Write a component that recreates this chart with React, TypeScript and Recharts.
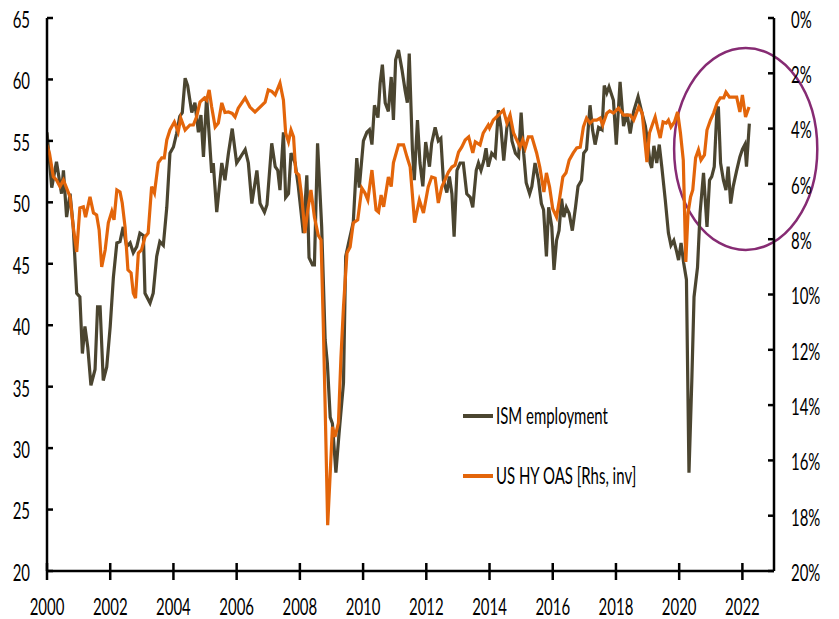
import React from 'react';
import { LineChart, Line, XAxis, YAxis, Legend, ReferenceArea } from 'recharts';

// ISM employment index (left axis), sampled by years since 2000
const ismYearsSince2000 = [
  0.00, 0.08, 0.15, 0.30, 0.46, 0.52, 0.62, 0.73, 0.83, 0.94,
  1.04, 1.12, 1.20, 1.29, 1.39, 1.52, 1.60, 1.68, 1.78, 1.89,
  2.00, 2.10, 2.21, 2.31, 2.41, 2.52, 2.63, 2.73, 2.84, 2.94,
  3.05, 3.10, 3.26, 3.36, 3.47, 3.57, 3.68, 3.79, 3.89, 4.00,
  4.10, 4.20, 4.28, 4.37, 4.45, 4.58, 4.68, 4.79, 4.87, 4.95,
  5.05, 5.21, 5.26, 5.37, 5.53, 5.63, 5.74, 5.86, 6.00, 6.10,
  6.27, 6.37, 6.48, 6.64, 6.74, 6.88, 6.96, 7.11, 7.22, 7.30,
  7.37, 7.48, 7.55, 7.64, 7.72, 7.85, 7.95, 8.11, 8.22, 8.29,
  8.40, 8.46, 8.56, 8.69, 8.80, 8.87, 8.96, 9.03, 9.14, 9.24,
  9.38, 9.45, 9.56, 9.69, 9.80, 9.88, 10.01, 10.12, 10.20, 10.28,
  10.36, 10.47, 10.54, 10.61, 10.70, 10.80, 10.89, 10.96, 11.03, 11.12,
  11.23, 11.33, 11.40, 11.46, 11.56, 11.62, 11.72, 11.80, 11.89, 11.98,
  12.10, 12.17, 12.28, 12.38, 12.46, 12.54, 12.65, 12.73, 12.81, 12.88,
  12.97, 13.07, 13.17, 13.28, 13.39, 13.47, 13.58, 13.65, 13.73, 13.82,
  13.89, 13.96, 14.07, 14.18, 14.28, 14.36, 14.45, 14.55, 14.64, 14.71,
  14.82, 14.92, 15.00, 15.08, 15.16, 15.27, 15.34, 15.44, 15.55, 15.64,
  15.71, 15.80, 15.87, 15.97, 16.04, 16.12, 16.20, 16.28, 16.35, 16.43,
  16.52, 16.62, 16.72, 16.80, 16.91, 16.98, 17.07, 17.18, 17.26, 17.34,
  17.45, 17.56, 17.63, 17.71, 17.78, 17.92, 18.01, 18.13, 18.24, 18.35,
  18.45, 18.56, 18.70, 18.83, 18.93, 19.00, 19.08, 19.13, 19.20, 19.29,
  19.37, 19.45, 19.56, 19.66, 19.74, 19.83, 19.91, 19.98, 20.06, 20.14,
  20.23, 20.31, 20.40, 20.47, 20.58, 20.66, 20.77, 20.88, 20.96, 21.03,
  21.11, 21.19, 21.24, 21.31, 21.40, 21.48, 21.55, 21.63, 21.71, 21.82,
  21.92, 22.00, 22.08, 22.13, 22.22,
];
const ismValues = [
  55.7, 53.3, 51.2, 53.3, 50.7, 52.6, 48.8, 50.7, 48.0, 42.6,
  42.3, 37.7, 39.9, 38.2, 35.1, 36.4, 41.5, 41.5, 35.5, 36.6,
  39.9, 43.9, 46.7, 46.8, 48.0, 46.4, 46.7, 45.9, 46.4, 47.5,
  47.3, 42.6, 41.8, 42.6, 45.6, 46.8, 46.5, 49.6, 54.0, 54.5,
  55.6, 57.0, 57.3, 60.1, 59.5, 57.3, 58.1, 55.7, 57.1, 53.7,
  58.6, 52.4, 53.2, 49.2, 53.2, 51.8, 54.0, 56.0, 53.2, 53.6,
  54.3, 53.2, 49.9, 52.6, 49.9, 49.2, 49.8, 54.8, 52.9, 52.6,
  51.0, 55.7, 50.4, 50.7, 54.0, 53.2, 51.3, 47.5, 52.2, 45.5,
  44.9, 44.9, 54.8, 48.0, 38.8, 36.9, 32.5, 32.0, 28.0, 31.2,
  35.3, 45.6, 46.9, 48.4, 53.6, 51.2, 55.0, 55.7, 55.9, 54.7,
  57.9, 56.9, 59.7, 61.2, 58.1, 57.4, 60.2, 56.7, 61.6, 62.4,
  60.8, 59.1, 58.1, 62.1, 54.3, 51.8, 56.7, 53.2, 51.3, 54.9,
  52.9, 54.8, 56.1, 55.0, 55.2, 51.8, 50.8, 52.1, 50.7, 47.2,
  52.6, 53.2, 53.2, 50.7, 50.4, 49.6, 52.6, 53.2, 52.6, 53.4,
  54.4, 52.9, 54.0, 53.7, 57.5, 56.1, 53.4, 56.1, 57.0, 55.0,
  54.0, 53.7, 57.3, 54.0, 51.6, 50.7, 51.3, 53.2, 51.8, 49.9,
  49.4, 45.6, 49.6, 48.0, 44.5, 46.9, 47.7, 50.3, 48.8, 49.6,
  49.1, 47.7, 49.6, 51.3, 51.8, 54.0, 54.3, 57.9, 55.9, 54.7,
  56.1, 55.9, 59.5, 58.9, 59.4, 58.3, 54.7, 59.8, 56.2, 57.2,
  55.6, 57.4, 58.6, 57.2, 56.2, 55.0, 53.2, 52.8, 54.6, 53.2,
  54.7, 52.9, 50.2, 47.5, 46.5, 46.9, 46.1, 45.3, 46.7, 45.1,
  43.7, 28.0, 35.5, 42.3, 44.7, 49.1, 52.4, 48.0, 51.8, 52.1,
  52.9, 57.3, 57.8, 53.2, 51.8, 51.0, 52.9, 49.9, 51.3, 52.6,
  53.7, 54.3, 54.7, 52.9, 56.4,
];

// US HY OAS in % (right axis, inverted), sampled by years since 2000
const oasYearsSince2000 = [
  0.00, 0.08, 0.20, 0.30, 0.41, 0.52, 0.62, 0.73, 0.83, 0.94,
  1.04, 1.15, 1.22, 1.36, 1.47, 1.57, 1.65, 1.73, 1.84, 1.94,
  2.05, 2.12, 2.21, 2.31, 2.38, 2.47, 2.56, 2.66, 2.73, 2.80,
  2.89, 2.99, 3.10, 3.20, 3.31, 3.40, 3.52, 3.63, 3.71, 3.79,
  3.89, 4.03, 4.15, 4.23, 4.37, 4.52, 4.63, 4.73, 4.84, 4.98,
  5.05, 5.13, 5.21, 5.32, 5.42, 5.53, 5.63, 5.74, 5.86, 5.95,
  6.05, 6.27, 6.42, 6.58, 6.74, 6.90, 7.00, 7.11, 7.22, 7.37,
  7.48, 7.55, 7.64, 7.72, 7.80, 7.87, 7.97, 8.06, 8.16, 8.25,
  8.35, 8.46, 8.58, 8.67, 8.74, 8.80, 8.88, 8.96, 9.03, 9.11,
  9.22, 9.30, 9.38, 9.49, 9.59, 9.69, 9.83, 9.96, 10.06, 10.15,
  10.28, 10.41, 10.49, 10.57, 10.65, 10.80, 10.89, 10.96, 11.12, 11.28,
  11.39, 11.49, 11.63, 11.78, 11.91, 12.06, 12.17, 12.28, 12.38, 12.49,
  12.59, 12.70, 12.81, 12.91, 13.02, 13.12, 13.23, 13.34, 13.47, 13.55,
  13.70, 13.80, 13.96, 14.00, 14.12, 14.28, 14.44, 14.55, 14.65, 14.76,
  14.86, 14.97, 15.05, 15.13, 15.23, 15.34, 15.49, 15.59, 15.72, 15.80,
  15.90, 16.00, 16.12, 16.21, 16.32, 16.42, 16.52, 16.65, 16.76, 16.87,
  16.97, 17.07, 17.18, 17.28, 17.39, 17.50, 17.58, 17.71, 17.80, 17.92,
  18.08, 18.24, 18.45, 18.56, 18.72, 18.83, 18.89, 18.98, 19.06, 19.17,
  19.24, 19.31, 19.40, 19.49, 19.59, 19.66, 19.74, 19.85, 19.95, 20.04,
  20.13, 20.21, 20.28, 20.36, 20.43, 20.52, 20.61, 20.69, 20.80, 20.88,
  20.99, 21.09, 21.20, 21.30, 21.41, 21.48, 21.59, 21.71, 21.82, 21.92,
  22.00, 22.10, 22.21,
];
const oasValues = [
  4.59, 4.90, 5.74, 5.86, 6.10, 5.86, 6.15, 6.47, 7.56, 8.46,
  6.87, 6.83, 7.20, 6.47, 7.05, 7.12, 7.67, 9.00, 8.39, 7.41,
  7.00, 7.30, 6.22, 6.29, 6.69, 7.56, 9.11, 9.22, 9.95, 10.13,
  8.50, 8.39, 7.92, 7.78, 6.10, 6.33, 5.24, 5.06, 5.06, 4.41,
  4.05, 3.76, 4.12, 3.62, 4.05, 3.87, 3.87, 3.58, 3.04, 2.89,
  2.97, 2.60, 3.22, 3.94, 3.80, 3.07, 3.42, 3.40, 3.45, 3.58,
  3.26, 2.89, 3.22, 3.40, 3.22, 3.04, 2.60, 2.65, 2.78, 2.35,
  2.97, 4.16, 4.48, 4.05, 4.30, 5.57, 5.68, 6.47, 7.78, 6.94,
  6.22, 7.20, 7.85, 8.03, 11.03, 14.07, 18.34, 16.46, 14.79, 15.15,
  14.65, 12.26, 10.45, 8.50, 8.28, 7.41, 7.30, 6.15, 6.33, 6.58,
  5.50, 6.94, 7.02, 6.40, 6.83, 5.75, 6.10, 5.24, 4.59, 4.59,
  5.03, 5.39, 7.40, 6.58, 7.05, 6.11, 5.75, 5.79, 6.69, 6.11,
  5.86, 5.57, 5.39, 5.32, 4.85, 4.67, 4.41, 4.30, 4.88, 4.48,
  4.59, 4.16, 3.87, 3.98, 3.69, 3.51, 3.33, 3.80, 3.51, 4.16,
  4.41, 4.67, 4.41, 4.70, 4.30, 4.30, 4.88, 5.39, 6.29, 5.60,
  6.11, 6.90, 7.20, 6.58, 5.75, 5.60, 5.14, 4.88, 4.70, 4.67,
  3.94, 3.62, 3.80, 3.69, 3.69, 3.62, 3.87, 3.44, 3.36, 3.44,
  3.26, 3.51, 3.51, 3.69, 3.22, 3.44, 4.16, 5.21, 4.16, 3.80,
  3.58, 3.94, 4.34, 3.76, 3.80, 3.69, 3.94, 3.76, 3.40, 4.16,
  5.14, 8.82, 7.05, 6.47, 6.22, 5.06, 4.77, 5.14, 4.95, 4.05,
  3.69, 3.44, 3.07, 2.89, 2.89, 2.68, 2.86, 2.86, 2.86, 3.40,
  2.78, 3.58, 3.22,
];

const xTicks = [2000, 2002, 2004, 2006, 2008, 2010, 2012, 2014, 2016, 2018, 2020, 2022];
const leftTicks = [20, 25, 30, 35, 40, 45, 50, 55, 60, 65];
const rightTicks = [0, 2, 4, 6, 8, 10, 12, 14, 16, 18, 20];

const ismData = ismYearsSince2000.map((t, i) => ({ year: 2000 + t, value: ismValues[i] }));
const oasData = oasYearsSince2000.map((t, i) => ({ year: 2000 + t, value: oasValues[i] }));

const FONT = 'Lato, "Liberation Sans", sans-serif';
const FS = 17;
const SX = 0.88;
const SY = 1.35;
const ISM_COLOR = '#4B4530';
const OAS_COLOR = '#E3650A';

const XTick = (props: any) => {
  const { x, y, payload } = props;
  return (
    <g>
      <line x1={x} x2={x} y1={y - 8} y2={y + 9} stroke="#000" strokeWidth={2.5} />
      <text transform={`translate(${x},${y + 35}) scale(${SX},${SY})`} textAnchor="middle" dominantBaseline="central" fontSize={FS} fontFamily={FONT} fill="#000">
        {payload.value}
      </text>
    </g>
  );
};

const LeftTick = (props: any) => {
  const { x, y, payload } = props;
  return (
    <g>
      <line x1={x} x2={x + 6} y1={y} y2={y} stroke="#000" strokeWidth={2.5} />
      <text transform={`translate(${x - 17},${y + 1}) scale(${SX},${SY})`} textAnchor="end" dominantBaseline="central" fontSize={FS} fontFamily={FONT} fill="#000">
        {payload.value}
      </text>
    </g>
  );
};

const RightTick = (props: any) => {
  const { x, y, payload } = props;
  return (
    <g>
      <line x1={x - 6} x2={x} y1={y} y2={y} stroke="#000" strokeWidth={2.5} />
      <text transform={`translate(${x + 17},${y + 1}) scale(${SX},${SY})`} textAnchor="start" dominantBaseline="central" fontSize={FS} fontFamily={FONT} fill="#000">
        {`${payload.value}%`}
      </text>
    </g>
  );
};

const legendItems = [
  { label: 'ISM employment', color: ISM_COLOR },
  { label: 'US HY OAS [Rhs, inv]', color: OAS_COLOR },
];

const renderLegend = () => (
  <div style={{ fontFamily: FONT, fontSize: FS, color: '#000' }}>
    {legendItems.map((it, i) => (
      <div key={i} style={{ display: 'flex', alignItems: 'center', height: 20, marginBottom: i === 0 ? 40 : 0 }}>
        <div style={{ width: 30, height: 4, background: it.color, marginRight: 3 }} />
        <span style={{ display: 'inline-block', transform: `scale(${SX}, ${SY})`, transformOrigin: 'left center', whiteSpace: 'nowrap', lineHeight: '20px' }}>
          {it.label}
        </span>
      </div>
    ))}
  </div>
);

const EllipseShape = (props: any) => {
  const { x, y, width, height } = props;
  return (
    <ellipse cx={x + width / 2} cy={y + height / 2} rx={Math.abs(width) / 2} ry={Math.abs(height) / 2} fill="none" stroke="#862B73" strokeWidth={2.5} />
  );
};

export default function App() {
  return (
    <div style={{ position: 'absolute', left: 0, top: 0, width: 839, height: 619, background: '#fff' }}>
      <LineChart width={839} height={619} margin={{ top: 18, right: 0, bottom: 0, left: 0 }}>
        <XAxis
          dataKey="year"
          type="number"
          domain={[2000, 2023]}
          ticks={xTicks}
          interval={0}
          height={48}
          tickSize={0}
          tickMargin={0}
          tickLine={false}
          axisLine={{ stroke: '#000', strokeWidth: 2.5 }}
          tick={<XTick />}
          allowDataOverflow
        />
        <YAxis
          yAxisId="left"
          domain={[20, 65]}
          ticks={leftTicks}
          interval={0}
          width={47}
          tickSize={0}
          tickMargin={0}
          tickLine={false}
          axisLine={{ stroke: '#000', strokeWidth: 2.5 }}
          tick={<LeftTick />}
          allowDataOverflow
        />
        <YAxis
          yAxisId="right"
          orientation="right"
          domain={[0, 20]}
          reversed
          ticks={rightTicks}
          interval={0}
          width={65}
          tickSize={0}
          tickMargin={0}
          tickLine={false}
          axisLine={{ stroke: '#000', strokeWidth: 2.5 }}
          tick={<RightTick />}
          allowDataOverflow
        />
        <Line
          yAxisId="left"
          data={ismData}
          dataKey="value"
          name="ISM employment"
          stroke={ISM_COLOR}
          strokeWidth={3.2}
          dot={false}
          activeDot={false}
          type="linear"
          isAnimationActive={false}
        />
        <Line
          yAxisId="right"
          data={oasData}
          dataKey="value"
          name="US HY OAS [Rhs, inv]"
          stroke={OAS_COLOR}
          strokeWidth={3.2}
          dot={false}
          activeDot={false}
          type="linear"
          isAnimationActive={false}
        />
        <ReferenceArea
          yAxisId="left"
          x1={2019.84}
          x2={2024.37}
          y1={46.12}
          y2={62.56}
          ifOverflow="visible"
          shape={<EllipseShape />}
        />
        <Legend
          layout="vertical"
          verticalAlign="middle"
          align="center"
          content={renderLegend}
          wrapperStyle={{ position: 'absolute', left: 463, top: 406, width: 260 }}
        />
      </LineChart>
    </div>
  );
}
